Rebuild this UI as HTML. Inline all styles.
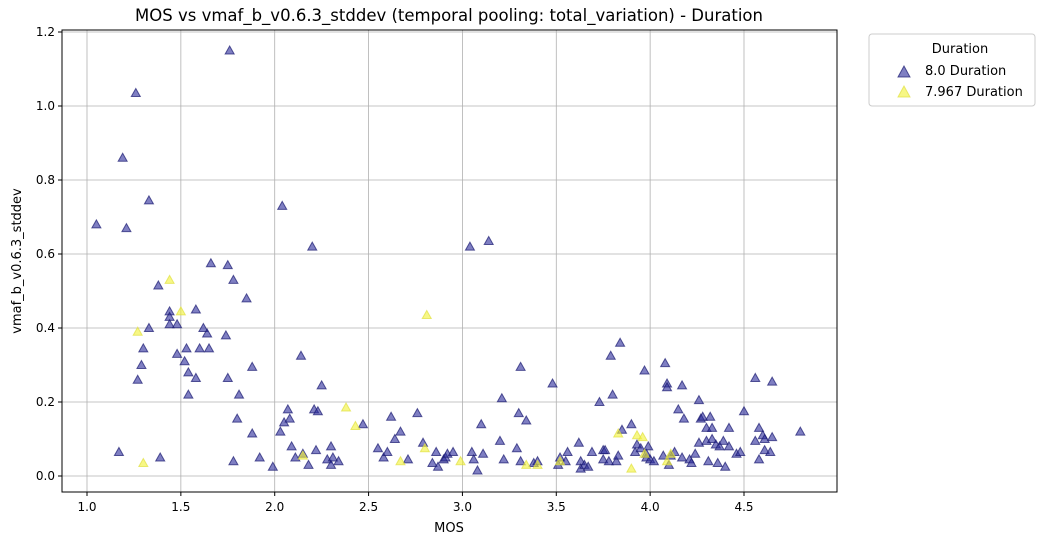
<!DOCTYPE html>
<html><head><meta charset="utf-8"><style>
body{margin:0;background:#fff;font-family:"Liberation Sans","DejaVu Sans",sans-serif}
svg text{font-family:"DejaVu Sans","Liberation Sans",sans-serif;fill:#000}
</style></head><body>
<svg id="chart" width="1046" height="545" xmlns="http://www.w3.org/2000/svg">
<text x="449" y="21" font-size="16.5" text-anchor="middle">MOS vs vmaf_b_v0.6.3_stddev (temporal pooling: total_variation) - Duration</text>
<g id="grid"></g>
<rect x="62" y="30" width="775" height="462" fill="none" stroke="#000" stroke-width="1"/>
<g id="ticks"></g>
<g id="pts"></g>
<text x="449" y="532" font-size="13" text-anchor="middle">MOS</text>
<text transform="translate(21,261) rotate(-90)" font-size="13" text-anchor="middle">vmaf_b_v0.6.3_stddev</text>
<g>
<rect x="869" y="34" width="166" height="72" rx="3" fill="#fff" stroke="#ccc"/>
<text x="960" y="53" font-size="13" text-anchor="middle">Duration</text>
<polygon points="904,66 898,77 910,77" fill="#2a2a9a" fill-opacity="0.6" stroke="#1a1a70" stroke-opacity="0.7"/>
<text x="925" y="75" font-size="13">8.0 Duration</text>
<polygon points="904,86 898,97 910,97" fill="#f2f233" fill-opacity="0.6" stroke="#e0e040" stroke-opacity="0.7"/>
<text x="925" y="96" font-size="13">7.967 Duration</text>
</g>
</svg>
<script>
const xTicks=[1.0,1.5,2.0,2.5,3.0,3.5,4.0,4.5];
const yTicks=[0.0,0.2,0.4,0.6,0.8,1.0,1.2];
const mos8=[1.05,1.17,1.19,1.21,1.26,1.27,1.29,1.30,1.33,1.33,1.38,1.39,1.44,1.44,1.44,1.48,1.48,1.52,1.53,1.54,1.54,1.58,1.58,1.60,1.62,1.64,1.65,1.66,1.74,1.75,1.75,1.76,1.78,1.78,1.80,1.81,1.85,1.88,1.88,1.92,1.99,2.03,2.04,2.05,2.07,2.08,2.09,2.11,2.14,2.15,2.18,2.20,2.21,2.22,2.23,2.25,2.28,2.30,2.30,2.31,2.34,2.47,2.55,2.58,2.60,2.62,2.64,2.67,2.71,2.76,2.79,2.84,2.86,2.87,2.90,2.91,2.92,2.95,3.04,3.05,3.06,3.08,3.10,3.11,3.14,3.20,3.21,3.22,3.29,3.30,3.31,3.31,3.34,3.38,3.40,3.48,3.51,3.52,3.55,3.56,3.62,3.63,3.63,3.65,3.67,3.69,3.73,3.75,3.75,3.76,3.78,3.79,3.80,3.82,3.84,3.85,3.83,3.90,3.92,3.93,3.95,3.97,3.98,3.98,3.99,4.00,4.02,4.07,4.08,4.09,4.09,4.10,4.11,4.13,4.15,4.17,4.17,4.18,4.21,4.22,4.24,4.26,4.26,4.27,4.28,4.30,4.30,4.31,4.32,4.33,4.33,4.35,4.36,4.37,4.39,4.40,4.42,4.42,4.46,4.48,4.50,4.56,4.56,4.58,4.58,4.60,4.61,4.61,4.64,4.65,4.65,4.80];
const std8=[0.68,0.065,0.86,0.67,1.035,0.26,0.3,0.345,0.745,0.40,0.515,0.05,0.445,0.43,0.41,0.41,0.33,0.31,0.345,0.28,0.22,0.45,0.265,0.345,0.40,0.385,0.345,0.575,0.38,0.57,0.265,1.15,0.53,0.04,0.155,0.22,0.48,0.295,0.115,0.05,0.025,0.12,0.73,0.145,0.18,0.155,0.08,0.05,0.325,0.06,0.03,0.62,0.18,0.07,0.175,0.245,0.045,0.08,0.03,0.05,0.04,0.14,0.075,0.05,0.065,0.16,0.10,0.12,0.045,0.17,0.09,0.035,0.065,0.025,0.045,0.05,0.06,0.065,0.62,0.065,0.045,0.015,0.14,0.06,0.635,0.095,0.21,0.045,0.075,0.17,0.295,0.04,0.15,0.035,0.04,0.25,0.03,0.05,0.04,0.065,0.09,0.04,0.02,0.03,0.025,0.065,0.20,0.07,0.045,0.07,0.04,0.325,0.22,0.04,0.36,0.125,0.055,0.14,0.065,0.085,0.075,0.285,0.06,0.05,0.08,0.045,0.04,0.055,0.305,0.25,0.24,0.03,0.055,0.065,0.18,0.245,0.05,0.155,0.045,0.035,0.06,0.205,0.09,0.155,0.16,0.13,0.095,0.04,0.16,0.1,0.13,0.085,0.035,0.08,0.095,0.025,0.13,0.08,0.06,0.065,0.175,0.265,0.095,0.13,0.045,0.11,0.07,0.1,0.065,0.105,0.255,0.12];
const mos7967=[1.27,1.30,1.44,1.50,2.15,2.38,2.43,2.67,2.80,2.81,2.99,3.34,3.40,3.52,3.83,3.90,3.93,3.96,3.97,4.09,4.11];
const std7967=[0.39,0.035,0.53,0.445,0.055,0.185,0.135,0.04,0.075,0.435,0.04,0.03,0.03,0.04,0.115,0.02,0.11,0.105,0.06,0.04,0.06];
const NS='http://www.w3.org/2000/svg';
const X=v=>87+(v-1)*(744-87)/3.5;
const Y=v=>476-v*(476-32)/1.2;
function mk(tag,attrs,parent){const e=document.createElementNS(NS,tag);for(const k in attrs)e.setAttribute(k,attrs[k]);parent.appendChild(e);return e;}
const grid=document.getElementById('grid'),ticks=document.getElementById('ticks'),pts=document.getElementById('pts');
xTicks.forEach(t=>{const x=X(t);
 const g=mk('line',{x1:x,x2:x,y1:30,y2:492,stroke:'#b0b0b0','stroke-width':0.8},grid);
 
 
 mk('line',{x1:x,x2:x,y1:492,y2:496,stroke:'#000'},ticks);
 const l=mk('text',{x:x,y:511,'font-size':12,'text-anchor':'middle'},ticks);l.textContent=t.toFixed(1);
 
 
});
yTicks.forEach(t=>{const y=Y(t);
 const g=mk('line',{x1:62,x2:837,y1:y,y2:y,stroke:'#b0b0b0','stroke-width':0.8},grid);
 
 
 mk('line',{x1:58,x2:62,y1:y,y2:y,stroke:'#000'},ticks);
 const l=mk('text',{x:55,y:y+4,'font-size':12,'text-anchor':'end'},ticks);l.textContent=t.toFixed(1);
 
 
});
function tri(xs,ys,fill,stroke,name){xs.forEach((m,i)=>{const x=X(m),y=Y(ys[i]);
 const p=mk('polygon',{points:`${x},${y-4.5} ${x-4.5},${y+3.5} ${x+4.5},${y+3.5}`,fill:fill,'fill-opacity':0.6,stroke:stroke,'stroke-opacity':0.7,'stroke-width':1},pts);
 
 
});}
tri(mos8,std8,'#2a2a9a','#1a1a70','point-8-duration');
tri(mos7967,std7967,'#f2f233','#e0e040','point-7967-duration');
</script>
</body></html>
